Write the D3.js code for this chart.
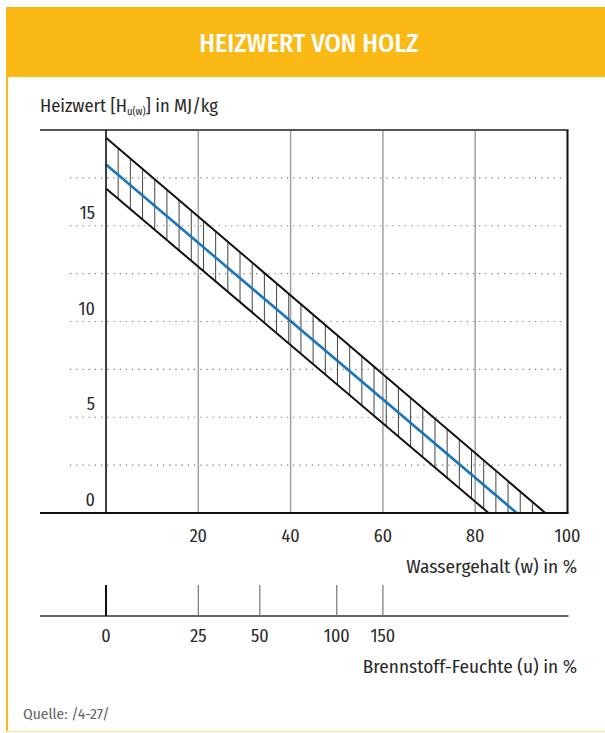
<!DOCTYPE html>
<html><head><meta charset="utf-8">
<script src="https://cdn.jsdelivr.net/npm/d3@7"></script>
<style>body{margin:0;background:#fff} text{font-family:"Fira Sans Condensed","Roboto Condensed",sans-serif;font-weight:400}</style>
</head><body>
<svg id="c" width="605" height="733"></svg>
<script>
// ---- data ----
const title = "HEIZWERT VON HOLZ";
const yTicks = [0, 5, 10, 15];
const yMinorTicks = [2.5, 5, 7.5, 10, 12.5, 15, 17.5];
const xTicks = [20, 40, 60, 80, 100];
const xGrid = [20, 40, 60, 80];
const uTicks = [0, 25, 50, 100, 150];
// heating value band (water content w in %, heating value in MJ/kg)
const upperBand = [{w: 0, h: 19.6}, {w: 95.2, h: 0}];
const meanLine  = [{w: 0, h: 18.2}, {w: 89.0, h: 0}];
const lowerBand = [{w: 0, h: 16.95}, {w: 82.9, h: 0}];
const hatchStep = 2.64; // spacing of vertical hatch strokes (w units)

// ---- scales ----
const x = d3.scaleLinear().domain([0, 100]).range([106, 567.5]);
const y = d3.scaleLinear().domain([0, 20]).range([513, 130]);
const uToW = u => u / (100 + u) * 100;

const svg = d3.select("#c");
const yellow = "#FBB916";
const ink = "#2a2a2a";

// frame
svg.append("rect").attr("x", 6).attr("y", 7).attr("width", 599).attr("height", 70).attr("fill", yellow);
svg.append("line").attr("x1", 7).attr("x2", 7).attr("y1", 7).attr("y2", 732).attr("stroke", yellow).attr("stroke-width", 2);
svg.append("line").attr("x1", 6).attr("x2", 605).attr("y1", 731.5).attr("y2", 731.5).attr("stroke", "#FDE6A8").attr("stroke-width", 1.5);
svg.append("text").attr("x", 309).attr("y", 52).attr("text-anchor", "middle")
  .attr("font-size", 26).style("font-weight", 500).attr("fill", "#fff").text(title);

// y title
const yt = svg.append("text").attr("x", 40).attr("y", 112).attr("font-size", 18.5).attr("fill", ink);
yt.append("tspan").text("Heizwert [H");
yt.append("tspan").attr("font-size", 10.5).attr("dy", 3).text("u(w)");
yt.append("tspan").attr("dy", -3).text("] in MJ/kg");

// dotted horizontal lines
svg.append("g").selectAll("line").data(yMinorTicks).join("line")
  .attr("x1", 70).attr("x2", 563).attr("y1", d => y(d)).attr("y2", d => y(d))
  .attr("stroke", "#777").attr("stroke-width", 1.2).attr("stroke-dasharray", "1.2,5");

// vertical grid
svg.append("g").selectAll("line").data(xGrid).join("line")
  .attr("x1", d => x(d)).attr("x2", d => x(d)).attr("y1", y(20)).attr("y2", y(0))
  .attr("stroke", "#a0a0a0").attr("stroke-width", 1.5);

// hatching
const lineVal = (pts, w) => {
  const s = d3.scaleLinear().domain(pts.map(p => p.w)).range(pts.map(p => p.h));
  return Math.max(0, s(w));
};
const hatchW = d3.range(hatchStep, upperBand[1].w, hatchStep);
svg.append("g").selectAll("line").data(hatchW).join("line")
  .attr("x1", d => x(d)).attr("x2", d => x(d))
  .attr("y1", d => y(lineVal(lowerBand, d))).attr("y2", d => y(lineVal(upperBand, d)))
  .attr("stroke", "#444").attr("stroke-width", 1);

// band lines
const ln = d3.line().x(d => x(d.w)).y(d => y(d.h));
[upperBand, lowerBand].forEach(b => svg.append("path").attr("d", ln(b)).attr("fill", "none").attr("stroke", "#111").attr("stroke-width", 2));
svg.append("path").attr("d", ln(meanLine)).attr("fill", "none").attr("stroke", "#1B75BB").attr("stroke-width", 2.6);

// axes frame
svg.append("line").attr("x1", 40).attr("x2", 568.5).attr("y1", y(20)).attr("y2", y(20)).attr("stroke", "#555").attr("stroke-width", 2);
svg.append("line").attr("x1", 40).attr("x2", 568.5).attr("y1", y(0)).attr("y2", y(0)).attr("stroke", "#111").attr("stroke-width", 2);
svg.append("line").attr("x1", x(0)).attr("x2", x(0)).attr("y1", y(20)).attr("y2", y(0)).attr("stroke", "#111").attr("stroke-width", 1.6);
svg.append("line").attr("x1", x(100)).attr("x2", x(100)).attr("y1", y(20)).attr("y2", y(0)).attr("stroke", "#111").attr("stroke-width", 2);

// y labels
svg.append("g").selectAll("text").data(yTicks).join("text")
  .attr("x", 95).attr("y", d => y(d) - 7).attr("text-anchor", "end")
  .attr("font-size", 18).attr("fill", ink).text(d => d);

// x labels
svg.append("g").selectAll("text").data(xTicks).join("text")
  .attr("x", d => x(d)).attr("y", 542).attr("text-anchor", "middle")
  .attr("font-size", 18).attr("fill", ink).text(d => d);
svg.append("text").attr("x", 577).attr("y", 573).attr("text-anchor", "end")
  .attr("font-size", 19.2).attr("fill", ink).text("Wassergehalt (w) in %");

// secondary axis: fuel moisture u
svg.append("line").attr("x1", 40).attr("x2", 568.5).attr("y1", 616).attr("y2", 616).attr("stroke", "#333").attr("stroke-width", 1.6);
svg.append("g").selectAll("line").data(uTicks).join("line")
  .attr("x1", d => x(uToW(d))).attr("x2", d => x(uToW(d))).attr("y1", 585).attr("y2", 616)
  .attr("stroke", d => d === 0 ? "#111" : "#777").attr("stroke-width", d => d === 0 ? 2 : 1.2);
svg.append("g").selectAll("text").data(uTicks).join("text")
  .attr("x", d => x(uToW(d))).attr("y", 642).attr("text-anchor", "middle")
  .attr("font-size", 18).attr("fill", ink).text(d => d);
svg.append("text").attr("x", 577).attr("y", 673).attr("text-anchor", "end")
  .attr("font-size", 19.2).attr("fill", ink).text("Brennstoff-Feuchte (u) in %");

// source
svg.append("text").attr("x", 23).attr("y", 719).attr("font-size", 15.5).attr("fill", "#666").text("Quelle: /4-27/");
</script></body></html>
